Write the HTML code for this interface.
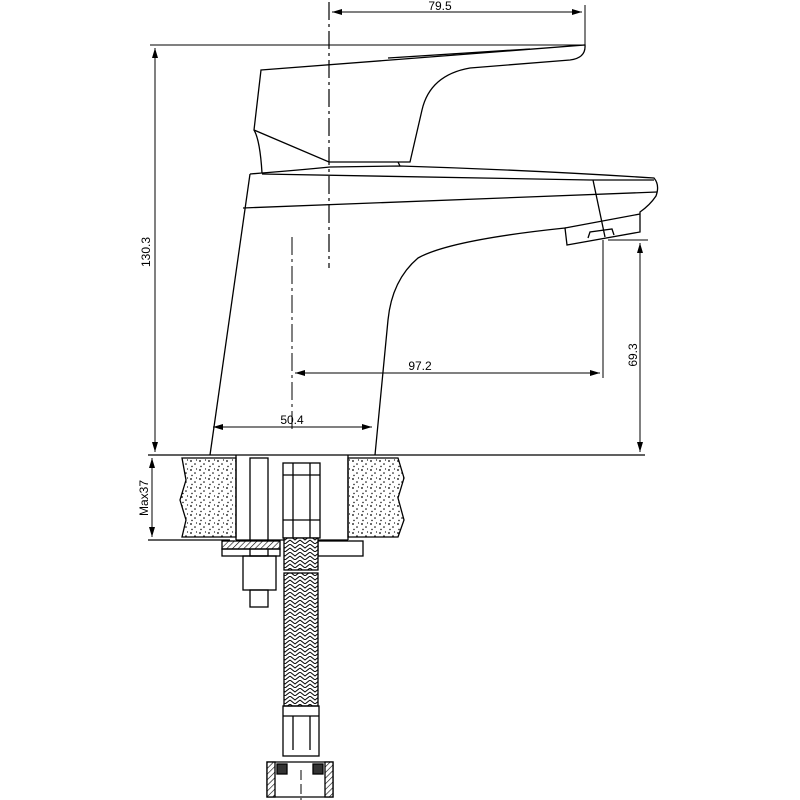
<!DOCTYPE html>
<html><head><style>body{margin:0;background:#fff}svg{display:block}text{font-family:"Liberation Sans",sans-serif;font-size:12px;fill:#000}</style></head><body>
<svg width="800" height="800" viewBox="0 0 800 800" xmlns="http://www.w3.org/2000/svg">
<defs>
<pattern id="dots" width="9" height="9" patternUnits="userSpaceOnUse"><rect width="9" height="9" fill="#fff"/><circle cx="2" cy="2" r="0.9" fill="#000"/><circle cx="6" cy="5" r="0.8" fill="#000"/><circle cx="3" cy="7.5" r="0.7" fill="#000"/><circle cx="7.5" cy="1" r="0.6" fill="#000"/></pattern>
<pattern id="braid" width="10" height="8" patternUnits="userSpaceOnUse"><rect width="10" height="8" fill="#fff"/><path d="M0 0 L5 4 L10 0 M0 4 L5 8 L10 4" stroke="#000" stroke-width="1" fill="none"/></pattern>
<pattern id="hatch" width="4" height="4" patternUnits="userSpaceOnUse" patternTransform="rotate(45)"><rect width="4" height="4" fill="#fff"/><line x1="0" y1="0" x2="0" y2="4" stroke="#000" stroke-width="1.2"/></pattern>
<marker id="ar" markerWidth="10" markerHeight="6" refX="10" refY="3" orient="auto-start-reverse"><path d="M0 0 L10 3 L0 6z" fill="#000"/></marker>
</defs>
<g fill="none" stroke="#000" stroke-width="1.3">
<line x1="150" y1="45" x2="585" y2="45" stroke-width="1"/>
<line x1="148" y1="455" x2="645" y2="455"/>
<line x1="155" y1="48" x2="155" y2="452" stroke-width="1" marker-start="url(#ar)" marker-end="url(#ar)"/>
<line x1="332" y1="12" x2="582" y2="12" stroke-width="1" marker-start="url(#ar)" marker-end="url(#ar)"/>
<line x1="585" y1="5" x2="585" y2="45" stroke-width="1"/>
<line x1="329" y1="2" x2="329" y2="268" stroke-width="1.2" stroke-dasharray="18 4 3 4"/>
<line x1="292" y1="237" x2="292" y2="432" stroke-width="1" stroke-dasharray="18 4 3 4"/>
<line x1="295" y1="373" x2="600" y2="373" stroke-width="1" marker-start="url(#ar)" marker-end="url(#ar)"/>
<line x1="603" y1="240" x2="603" y2="378" stroke-width="1"/>
<line x1="608" y1="240" x2="648" y2="240" stroke-width="1"/>
<line x1="640" y1="243" x2="640" y2="452" stroke-width="1" marker-start="url(#ar)" marker-end="url(#ar)"/>
<line x1="213" y1="427" x2="372" y2="427" stroke-width="1" marker-start="url(#ar)" marker-end="url(#ar)"/>
<line x1="152" y1="458" x2="152" y2="537" stroke-width="1" marker-start="url(#ar)" marker-end="url(#ar)"/>
<line x1="148" y1="540" x2="230" y2="540"/>
<!-- handle -->
<path d="M261 70 L585 45 Q586 58 570 60 L470 68 Q430 75 422 110 L410 162 L329 162 L254 130 Z"/>
<path d="M388 58 L530 49"/>
<path d="M254 130 Q260 140 262 173"/>
<path d="M398 162 L400 166"/>
<!-- body -->
<path d="M250 174 L262 173 Q300 170 330 167 L400 166 Q530 170 654 178 Q660 185 656 196 Q650 205 640 212 L640 232 L567 245 L565 228 Q450 240 418 258 Q392 280 388 320 L375 455"/>
<path d="M250 174 L210 455"/>
<path d="M262 174 L590 180 L654 180"/>
<path d="M243 208 L657 192"/>
<path d="M565 228 L640 214"/>
<path d="M593 180 L605 237"/>
<path d="M588 238 L590 232 L612 229 L614 235"/>
<!-- countertop stones -->
<path d="M182 458 L236 458 L236 537 L182 537 L186 520 L180 500 L186 480 Z" fill="url(#dots)"/>
<path d="M348 458 L398 458 L404 478 L398 498 L404 520 L398 537 L348 537 Z" fill="url(#dots)"/>
<line x1="236" y1="455" x2="236" y2="540"/>
<line x1="348" y1="455" x2="348" y2="540"/>
<line x1="236" y1="540" x2="348" y2="540"/>
<!-- bolt -->
<rect x="250" y="458" width="18" height="98"/>
<rect x="222" y="541" width="58" height="8" fill="url(#hatch)"/>
<rect x="222" y="549" width="58" height="7"/>
<rect x="243" y="556" width="33" height="34"/>
<rect x="250" y="590" width="18" height="17"/>
<rect x="318" y="541" width="45" height="15"/>
<!-- hose -->
<rect x="283" y="463" width="37" height="75"/>
<line x1="293" y1="463" x2="293" y2="538"/><line x1="310" y1="463" x2="310" y2="538"/>
<line x1="283" y1="475" x2="320" y2="475"/><line x1="283" y1="520" x2="320" y2="520"/>
<rect x="284" y="538" width="34" height="32" fill="url(#braid)"/>
<rect x="284" y="573" width="34" height="133" fill="url(#braid)"/>
<rect x="283" y="706" width="36" height="50"/>
<line x1="293" y1="716" x2="293" y2="750"/><line x1="310" y1="716" x2="310" y2="750"/>
<line x1="283" y1="716" x2="319" y2="716"/>
<path d="M267 762 L333 762 L333 797 L267 797 Z"/>
<rect x="267" y="762" width="8" height="35" fill="url(#hatch)"/>
<rect x="325" y="762" width="8" height="35" fill="url(#hatch)"/>
<rect x="277" y="764" width="10" height="10" fill="#333"/><rect x="313" y="764" width="10" height="10" fill="#333"/>
<line x1="301" y1="770" x2="301" y2="800" stroke-dasharray="10 4" stroke-width="1"/>
</g>
<text x="440" y="10" text-anchor="middle">79.5</text>
<text x="420" y="370" text-anchor="middle">97.2</text>
<text x="292" y="424" text-anchor="middle">50.4</text>
<text transform="translate(150 252) rotate(-90)" text-anchor="middle">130.3</text>
<text transform="translate(637 355) rotate(-90)" text-anchor="middle">69.3</text>
<text transform="translate(148 498) rotate(-90)" text-anchor="middle">Max37</text>
</svg>
</body></html>
